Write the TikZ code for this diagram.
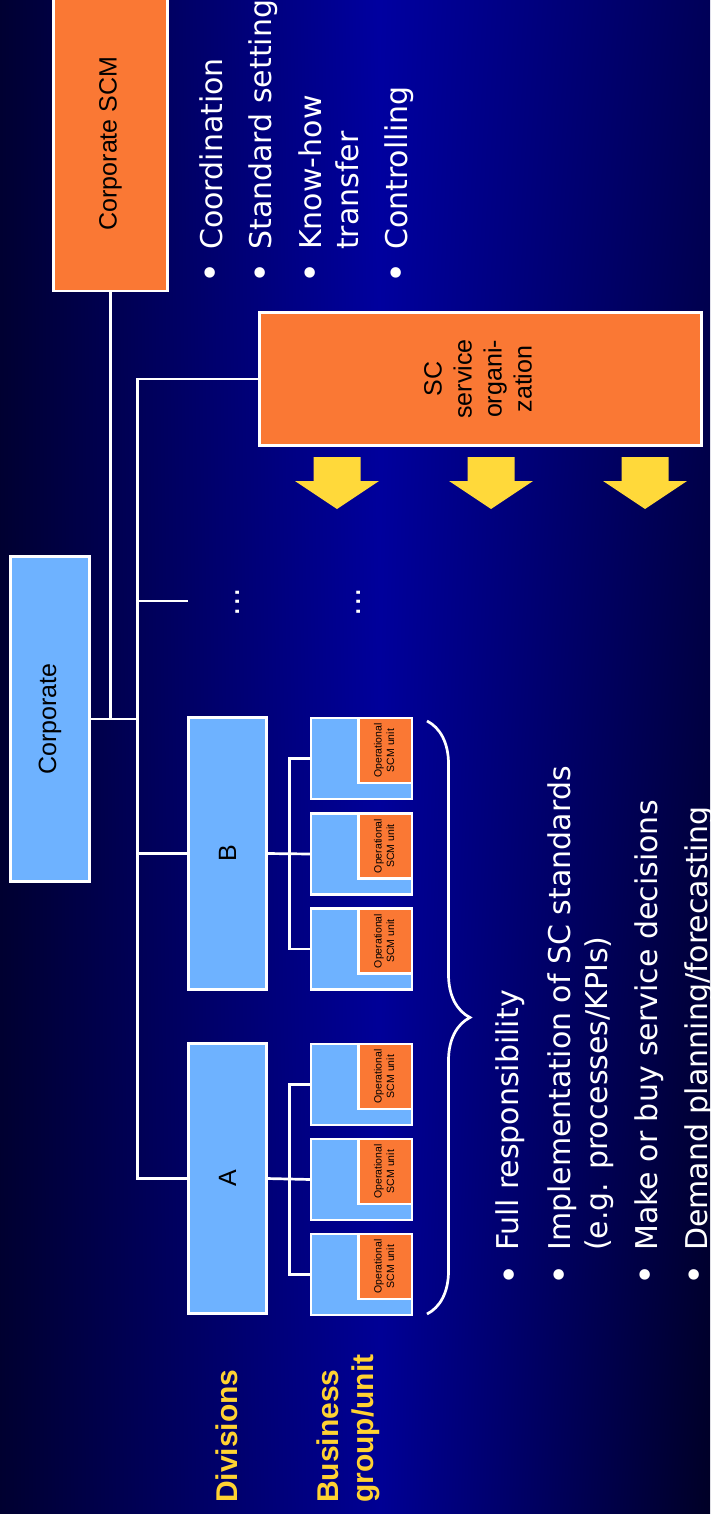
\documentclass[tikz,border=0pt]{standalone}
\usepackage{fontspec}
\setmainfont{Liberation Sans}
\newfontfamily\verd{DejaVu Sans}
\usetikzlibrary{decorations.pathreplacing,shadings}
\definecolor{bgdarkt}{RGB}{0,0,50}
\definecolor{bgdarkl}{RGB}{0,0,48}
\definecolor{bgmidt}{RGB}{0,0,160}
\definecolor{bgmidb}{RGB}{0,0,148}
\definecolor{bgrt}{RGB}{0,0,88}
\definecolor{bgrb}{RGB}{0,0,38}
\definecolor{lblue}{RGB}{110,178,255}
\definecolor{orng}{RGB}{250,120,52}
\definecolor{arrowyellow}{RGB}{255,217,58}
\definecolor{lblyellow}{RGB}{255,210,50}
\begin{document}
\begin{tikzpicture}[x=1pt,y=-1pt,
  box/.style={draw=white, line width=2.7pt, inner sep=0pt, outer sep=0pt, text=black, font=\fontsize{25}{30}\selectfont},
  bluebox/.style={box, fill=lblue},
  orangebox/.style={box, fill=orng},
  unitbox/.style={bluebox, minimum width=101pt, minimum height=81pt},
  opbox/.style={orangebox, minimum width=53.5pt, minimum height=65pt, anchor=north east, font=\fontsize{10.5}{12.5}\selectfont},
  conn/.style={draw=white, line width=2.7pt},
  blt/.style={rotate=90, anchor=base west, inner sep=0pt, text=white, font=\verd\fontsize{30}{37}\selectfont},
  bdot/.style={rotate=90, anchor=center, inner sep=0pt, text=white, font=\verd\fontsize{36}{40}\selectfont},
  lbl/.style={rotate=90, anchor=base west, inner sep=0pt, text=lblyellow, font=\bfseries\fontsize{30}{33}\selectfont},
  yarrow/.style={fill=arrowyellow},
  vdotsty/.style={text=white, inner sep=0pt, font=\verd\fontsize{30}{37}\selectfont},
  bracesty/.style={draw=white, line width=2.7pt, decorate, decoration={brace, amplitude=43pt}}
]
\useasboundingbox (0,0) rectangle (710,1514);
\shade[upper left=bgdarkt, lower left=bgdarkl, upper right=bgmidt, lower right=bgmidb] (0,0) rectangle (381,1514);
\shade[upper left=bgmidt, lower left=bgmidb, upper right=bgrt, lower right=bgrb] (380,0) rectangle (710,1514);

% boxes
\node[orangebox, minimum width=114pt, minimum height=295pt] (cscm) at (110.5,143.5) {\rotatebox{90}{Corporate SCM}};
\node[bluebox, minimum width=79pt, minimum height=325pt] (corp) at (50,719) {\rotatebox{90}{Corporate}};
\node[orangebox, minimum width=442pt, minimum height=133pt] (sc) at (480.5,379) {\rotatebox{90}{\begin{tabular}{@{}c@{}}SC\\service\\organi-\\zation\end{tabular}}};
\node[bluebox, minimum width=78pt, minimum height=272pt] (divB) at (227.5,853.5) {\rotatebox{90}{B}};
\node[bluebox, minimum width=78pt, minimum height=270pt] (divA) at (227.5,1178.5) {\rotatebox{90}{A}};

% units
\node[unitbox] (uB1) at (361.5,758.5) {};
\node[unitbox] (uB2) at (361.5,854) {};
\node[unitbox] (uB3) at (361.5,949) {};
\node[unitbox] (uA1) at (361.5,1084.5) {};
\node[unitbox] (uA2) at (361.5,1179.5) {};
\node[unitbox] (uA3) at (361.5,1274.5) {};
\foreach \u in {uB1,uB2,uB3,uA1,uA2,uA3}{
  \node[opbox] (o\u) at (\u.north east) {\rotatebox{90}{\begin{tabular}{@{}c@{}}Operational\\SCM unit\end{tabular}}};
}

% connectors
\coordinate (bus) at (137.5,719);
\coordinate (dotend) at (188,601);
\coordinate (bx) at (289.5,0);
\draw[conn] (cscm.south) -- (cscm.south |- corp.east);
\draw[conn] (corp.east) -- (bus);
\draw[conn] (sc.west) -- (sc.west -| bus) -- (bus |- divA.west) -- (divA.west);
\draw[conn] (bus |- dotend) -- (dotend);
\draw[conn] (bus |- divB.west) -- (divB.west);
\draw[conn] (uB1.west) -- (uB1.west -| bx) -- (uB3.west -| bx) -- (uB3.west);
\draw[conn] (divB.east) -- (uB2.west);
\draw[conn] (uA1.west) -- (uA1.west -| bx) -- (uA3.west -| bx) -- (uA3.west);
\draw[conn] (divA.east) -- (uA2.west);

% dots
\node[vdotsty] (dots1) at (238,602) {\rotatebox{90}{...}};
\node[vdotsty] (dots2) at (359,602) {\rotatebox{90}{...}};

% yellow arrows
\foreach \c in {337,491,645}{
  \fill[yarrow] ({\c-23.5},457) -- ({\c+23.5},457) -- ({\c+23.5},481) -- ({\c+42},481) -- (\c,509) -- ({\c-42},481) -- ({\c-23.5},481) -- cycle;
}

% brace
\coordinate (brT) at (427,721);
\coordinate (brB) at (427,1314);
\draw[bracesty] (brT) -- (brB);

% top bullets
\node[bdot] (tb1) at (214,273) {•};
\node[blt] (tt1) at (222,250) {Coordination};
\node[bdot] (tb2) at (264,273) {•};
\node[blt] (tt2) at (271,250) {Standard setting};
\node[bdot] (tb3) at (314,273) {•};
\node[blt] (tt3) at (321,250) {Know-how};
\node[blt] (tt3b) at (358,250) {transfer};
\node[bdot] (tb4) at (400,273) {•};
\node[blt] (tt4) at (407,250) {Controlling};

% bottom bullets
\node[bdot] (bb1) at (513,1275) {•};
\node[blt] (bt1) at (518,1251) {Full responsibility};
\node[bdot] (bb2) at (563,1275) {•};
\node[blt] (bt2) at (570,1251) {Implementation of SC standards};
\node[blt] (bt2b) at (607,1251) {(e.g. processes/KPIs)};
\node[bdot] (bb3) at (649,1275) {•};
\node[blt] (bt3) at (657,1251) {Make or buy service decisions};
\node[bdot] (bb4) at (698,1275) {•};
\node[blt] (bt4) at (707,1251) {Demand planning/forecasting};

% labels
\node[lbl] (ldiv) at (237,1503) {Divisions};
\node[lbl] (lbus) at (338,1503) {Business};
\node[lbl] (lgrp) at (373,1503) {group/unit};
\end{tikzpicture}
\end{document}
